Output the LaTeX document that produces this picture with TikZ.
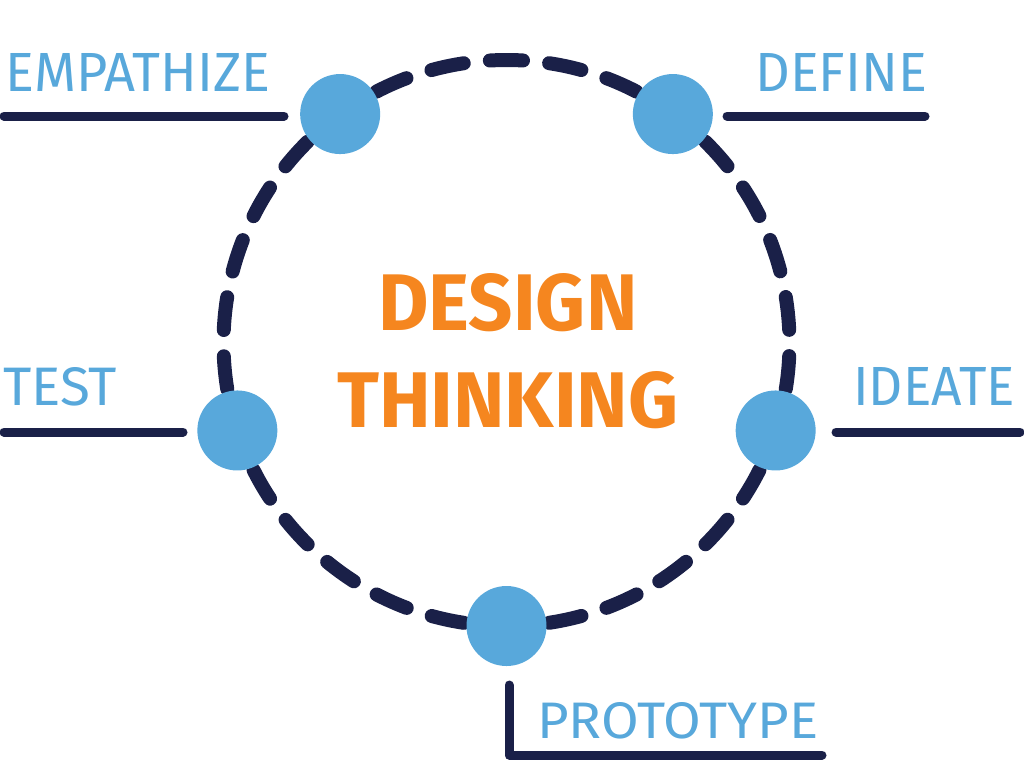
\documentclass[tikz,border=0pt]{standalone}
\usepackage{graphicx}
\usepackage{fontspec}
\usetikzlibrary{calc}
\setmainfont{Fira Sans}
\definecolor{navy}{HTML}{1A2048}
\definecolor{dotblue}{HTML}{58A8DB}
\definecolor{dtorange}{HTML}{F5861F}
\newcommand{\fitlabel}[3]{\resizebox{#1pt}{#2pt}{#3}}
\begin{document}
\begin{tikzpicture}[x=1pt,y=-1pt,
  stage/.style={circle,fill=dotblue,minimum size=80pt,inner sep=0pt},
  labelline/.style={draw=navy,line width=9pt,line cap=round},
  ring/.style={draw=navy,line width=14pt,line cap=round,dash pattern=on 33pt off 26.27pt},
  lbl/.style={text=dotblue,inner sep=0pt,anchor=base west},
  title/.style={text=dtorange,inner sep=0pt,anchor=base west,font=\bfseries}]
\useasboundingbox (0,0) rectangle (1024,764);
\coordinate (c) at (506.5,343);
% dashed ring
\draw[ring] ($(c)+(93.34:283 and -283)$) arc[start angle=93.34,end angle=-266.66,x radius=283,y radius=-283];
% stages
\node[stage] (emp) at ($(c)+(126:283 and -283)$) {};
\node[stage] (def) at ($(c)+(54:283 and -283)$) {};
\node[stage] (tst) at ($(c)+(198:283 and -283)$) {};
\node[stage] (ide) at ($(c)+(-18:283 and -283)$) {};
\node[stage] (pro) at ($(c)+(270:283 and -283)$) {};
% label lines
\coordinate (e1) at (4,116); \coordinate (e2) at (284,116);
\coordinate (d1) at (727,116); \coordinate (d2) at (925,116);
\coordinate (t1) at (4,432); \coordinate (t2) at (183,432);
\coordinate (i1) at (836,432); \coordinate (i2) at (1020,432);
\coordinate (p1) at (509,685); \coordinate (p2) at (509,755); \coordinate (p3) at (822,755);
\draw[labelline] (e1) -- (e2);
\draw[labelline] (d1) -- (d2);
\draw[labelline] (t1) -- (t2);
\draw[labelline] (i1) -- (i2);
\draw[labelline,line join=round] (p1) -- (p2) -- (p3);
% labels
\node[lbl] (temp) at (5,91) {\fitlabel{265}{38}{EMPATHIZE}};
\node[lbl] (tdef) at (755,91) {\fitlabel{172}{38}{DEFINE}};
\node[lbl] (ttst) at (3,405) {\fitlabel{114}{38}{TEST}};
\node[lbl] (tide) at (853,405) {\fitlabel{162}{38}{IDEATE}};
\node[lbl] (tpro) at (537,738) {\fitlabel{281}{36}{PROTOTYPE}};
\node[title] (t1n) at (378,330) {\fitlabel{259}{57}{DESIGN}};
\node[title] (t2n) at (337,427) {\fitlabel{341}{56}{THINKING}};
\end{tikzpicture}
\end{document}
